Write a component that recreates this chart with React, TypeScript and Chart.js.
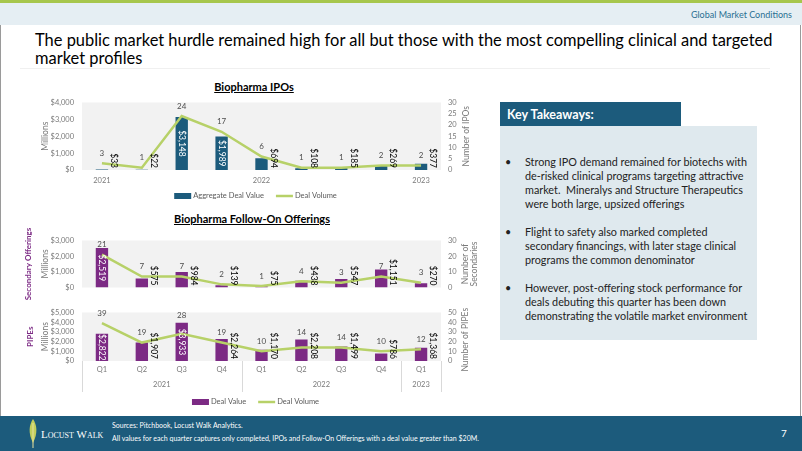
import React, { useEffect, useRef } from 'react';
import { Chart, registerables } from 'chart.js';
Chart.register(...registerables);

const FONT = 'Lato, "Open Sans", sans-serif';

// ---------- data ----------
const quarters = ['Q1', 'Q2', 'Q3', 'Q4', 'Q1', 'Q2', 'Q3', 'Q4', 'Q1'];
const years = ['2021', '2021', '2021', '2021', '2022', '2022', '2022', '2022', '2023'];

const ipoValues = [33, 22, 3148, 1989, 694, 108, 185, 269, 377];
const ipoCounts = [3, 1, 24, 17, 6, 1, 1, 2, 2];

const followOnValues = [2519, 575, 984, 139, 75, 438, 547, 1151, 270];
const followOnCounts = [21, 7, 7, 2, 1, 4, 3, 7, 3];

const pipeValues = [2822, 1907, 3933, 2264, 1170, 2208, 1499, 786, 1368];
const pipeCounts = [39, 19, 28, 19, 10, 14, 14, 10, 12];

const bullets = [
  ['Strong IPO demand remained for biotechs with', 'de-risked clinical programs targeting attractive', 'market.  Mineralys and Structure Therapeutics', 'were both large, upsized offerings'],
  ['Flight to safety also marked completed', 'secondary financings, with later stage clinical', 'programs the common denominator'],
  ['However, post-offering stock performance for', 'deals debuting this quarter has been down', 'demonstrating the volatile market environment'],
];

// ---------- colours ----------
const NAVY = '#1c5b7c';
const PURPLE = '#7c2a84';
const LINE = '#b7d168';
const TICK = '#7a7a7a';

// ---------- plugins ----------
const plotBg = {
  id: 'plotBg',
  beforeDraw(chart: any) {
    const { ctx, chartArea: a } = chart;
    ctx.save();
    ctx.fillStyle = '#f2f2f2';
    ctx.fillRect(a.left, a.top, a.width, a.height);
    ctx.restore();
  },
};

const valueLabels = {
  id: 'valueLabels',
  afterDatasetsDraw(chart: any, _args: any, opts: any) {
    const ctx = chart.ctx;
    const barMeta = chart.getDatasetMeta(0);
    chart.data.datasets.forEach((ds: any, di: number) => {
      const meta = chart.getDatasetMeta(di);
      meta.data.forEach((el: any, i: number) => {
        const v = ds.data[i];
        ctx.save();
        if (ds.type === 'bar') {
          ctx.font = `8.5px ${FONT}`;
          const text = '$' + v.toLocaleString('en-US');
          ctx.textBaseline = 'middle';
          if (v >= opts.insideMin) {
            ctx.fillStyle = '#ffffff';
            ctx.translate(el.x, (el.y + el.base) / 2);
            ctx.rotate(Math.PI / 2);
            ctx.textAlign = 'center';
          } else {
            ctx.fillStyle = '#000000';
            ctx.translate(el.x + 12, el.base - 2);
            ctx.rotate(Math.PI / 2);
            ctx.textAlign = 'right';
          }
          ctx.fillText(text, 0, 0);
        } else {
          ctx.font = `8px ${FONT}`;
          ctx.fillStyle = '#4d4d4d';
          ctx.textAlign = 'center';
          ctx.textBaseline = 'middle';
          let y = el.y - 10;
          if (opts.avoidBars) y = Math.min(y, barMeta.data[i].y - 7);
          ctx.fillText(String(v), el.x, y);
        }
        ctx.restore();
      });
    });
  },
};

const sideTitles = {
  id: 'sideTitles',
  afterDraw(chart: any, _args: any, opts: any) {
    const { ctx, chartArea: a } = chart;
    (opts.items || []).forEach((it: any) => {
      ctx.save();
      ctx.font = `${it.bold ? 'bold ' : ''}${it.size}px ${FONT}`;
      ctx.fillStyle = it.color;
      const x = it.side === 'left' ? a.left - it.offset : a.right + it.offset;
      ctx.translate(x, (a.top + a.bottom) / 2 + (it.dy || 0));
      ctx.rotate(-Math.PI / 2);
      ctx.textAlign = 'center';
      ctx.textBaseline = 'middle';
      ctx.fillText(it.text, 0, 0);
      ctx.restore();
    });
  },
};

const customLegend = {
  id: 'customLegend',
  afterDraw(chart: any, _args: any, opts: any) {
    if (!opts.show) return;
    const { ctx, chartArea: a } = chart;
    ctx.save();
    ctx.font = `${opts.size}px ${FONT}`;
    const sw = 17, gap = 2, spacing = 12;
    const items = chart.data.datasets.map((ds: any) => ({
      label: ds.label,
      type: ds.type,
      color: ds.type === 'bar' ? ds.backgroundColor : ds.borderColor,
    }));
    const widths = items.map((it: any) => sw + gap + ctx.measureText(it.label).width);
    const total = widths.reduce((s: number, w: number) => s + w, 0) + spacing * (items.length - 1);
    let x = (a.left + a.right) / 2 + opts.dx - total / 2;
    const y = a.bottom + opts.dy;
    items.forEach((it: any, i: number) => {
      if (it.type === 'bar') {
        ctx.fillStyle = it.color;
        ctx.fillRect(x, y - 3, sw, 6);
      } else {
        ctx.strokeStyle = it.color;
        ctx.lineWidth = 2.5;
        ctx.beginPath();
        ctx.moveTo(x, y);
        ctx.lineTo(x + sw, y);
        ctx.stroke();
      }
      ctx.fillStyle = '#595959';
      ctx.textAlign = 'left';
      ctx.textBaseline = 'middle';
      ctx.fillText(it.label, x + sw + gap, y);
      x += widths[i] + spacing;
    });
    ctx.restore();
  },
};

const yearGroups = {
  id: 'yearGroups',
  afterDraw(chart: any, _args: any, opts: any) {
    if (!opts.show) return;
    const { ctx, chartArea: a } = chart;
    const xs = chart.scales.x;
    const half = (xs.getPixelForValue(1) - xs.getPixelForValue(0)) / 2;
    ctx.save();
    ctx.strokeStyle = '#d9d9d9';
    ctx.lineWidth = 1;
    ctx.font = `7.5px ${FONT}`;
    ctx.fillStyle = TICK;
    ctx.textAlign = 'center';
    ctx.textBaseline = 'middle';
    const edges: number[] = [xs.getPixelForValue(0) - half];
    let start = 0;
    for (let i = 1; i <= years.length; i++) {
      if (i === years.length || years[i] !== years[start]) {
        const l = xs.getPixelForValue(start) - half;
        const r = xs.getPixelForValue(i - 1) + half;
        ctx.fillText(years[start], (l + r) / 2, a.bottom + opts.dy);
        edges.push(r);
        start = i;
      }
    }
    edges.forEach((ex) => {
      const px = Math.round(ex) + 0.5;
      ctx.beginPath();
      ctx.moveTo(px, a.bottom);
      ctx.lineTo(px, a.bottom + opts.len);
      ctx.stroke();
    });
    ctx.restore();
  },
};

// ---------- config builder ----------
function makeConfig(p: any) {
  return {
    type: 'bar',
    data: {
      labels: quarters.map((q, i) => q + ' ' + years[i]),
      datasets: [
        {
          type: 'bar',
          label: p.barLabel,
          data: p.values,
          backgroundColor: p.barColor,
          yAxisID: 'y',
          barPercentage: 0.31,
          categoryPercentage: 1,
          order: 2,
        },
        {
          type: 'line',
          label: 'Deal Volume',
          data: p.counts,
          borderColor: LINE,
          backgroundColor: LINE,
          borderWidth: 2.5,
          pointRadius: 0,
          tension: 0,
          yAxisID: 'y1',
          order: 1,
        },
      ],
    },
    options: {
      responsive: false,
      animation: false,
      devicePixelRatio: 1,
      layout: { padding: { top: p.padTop, bottom: p.padBottom, left: 0, right: 0 } },
      plugins: {
        legend: { display: false },
        tooltip: { enabled: false },
        valueLabels: { insideMin: p.insideMin, avoidBars: p.avoidBars },
        sideTitles: { items: p.titles },
        customLegend: p.legend,
        yearGroups: p.yearGroups,
      },
      scales: {
        x: {
          display: p.xDisplay,
          grid: { display: false, drawTicks: false },
          border: { display: false },
          ticks: {
            color: TICK,
            font: { family: FONT, size: 7.5 },
            padding: p.xPad,
            autoSkip: false,
            maxRotation: 0,
            callback: p.xCallback,
          },
          afterFit: (s: any) => { s.height = p.xHeight; },
        },
        y: {
          position: 'left',
          min: 0,
          max: p.valueMax,
          grid: { display: false, drawTicks: false },
          border: { display: false },
          ticks: {
            stepSize: p.valueStep,
            autoSkip: false,
            maxTicksLimit: 20,
            color: TICK,
            font: { family: FONT, size: 7.5 },
            padding: 8,
            callback: (v: number) => '$' + Number(v).toLocaleString('en-US'),
          },
          afterFit: (s: any) => { s.width = 82; },
        },
        y1: {
          position: 'right',
          min: 0,
          max: p.countMax,
          grid: { display: false, drawTicks: false },
          border: { display: false },
          ticks: {
            stepSize: p.countStep,
            autoSkip: false,
            maxTicksLimit: 20,
            color: TICK,
            font: { family: FONT, size: 7.5 },
            padding: 7,
          },
          afterFit: (s: any) => { s.width = 510 - 441; },
        },
      },
    },
    plugins: [plotBg, valueLabels, sideTitles, customLegend, yearGroups],
  };
}

const ipoConfig = makeConfig({
  barLabel: 'Aggregate Deal Value',
  values: ipoValues,
  counts: ipoCounts,
  barColor: NAVY,
  insideMin: 1500,
  avoidBars: true,
  valueMax: 4000,
  valueStep: 1000,
  countMax: 30,
  countStep: 5,
  padTop: 11,
  padBottom: 15,
  xDisplay: true,
  xHeight: 20,
  xPad: 6,
  xCallback: (_v: any, i: number) => (quarters[i] === 'Q1' ? years[i] : ''),
  titles: [
    { text: 'Millions', side: 'left', offset: 37, size: 8.5, color: TICK },
    { text: 'Number of IPOs', side: 'right', offset: 25, size: 8.5, color: TICK },
  ],
  legend: { show: true, size: 7.5, dx: -6, dy: 26 },
  yearGroups: { show: false },
});

const followOnConfig = makeConfig({
  barLabel: 'Deal Value',
  values: followOnValues,
  counts: followOnCounts,
  barColor: PURPLE,
  insideMin: 2000,
  avoidBars: false,
  valueMax: 3000,
  valueStep: 1000,
  countMax: 30,
  countStep: 10,
  padTop: 9,
  padBottom: 6,
  xDisplay: false,
  xHeight: 0,
  xPad: 0,
  xCallback: () => '',
  titles: [
    { text: 'Secondary Offerings', side: 'left', offset: 54, size: 8, bold: true, color: PURPLE },
    { text: 'Millions', side: 'left', offset: 37, size: 8.5, color: TICK },
    { text: 'Number of', side: 'right', offset: 24, size: 8.5, color: TICK },
    { text: 'Secondaries', side: 'right', offset: 33, size: 8.5, color: TICK },
  ],
  legend: { show: false },
  yearGroups: { show: false },
});

const pipeConfig = makeConfig({
  barLabel: 'Deal Value',
  values: pipeValues,
  counts: pipeCounts,
  barColor: PURPLE,
  insideMin: 2500,
  avoidBars: true,
  valueMax: 5000,
  valueStep: 1000,
  countMax: 50,
  countStep: 10,
  padTop: 8,
  padBottom: 21,
  xDisplay: true,
  xHeight: 30,
  xPad: 4,
  xCallback: (_v: any, i: number) => quarters[i],
  titles: [
    { text: 'PIPEs', side: 'left', offset: 52, size: 8, bold: true, color: PURPLE },
    { text: 'Millions', side: 'left', offset: 37, size: 8.5, color: TICK },
    { text: 'Number of PIPEs', side: 'right', offset: 24, size: 8.5, color: TICK, dy: 3 },
  ],
  legend: { show: true, size: 7.5, dx: -6, dy: 41 },
  yearGroups: { show: true, dy: 23.5, len: 31 },
});

function ChartCanvas({ config, left, top, width, height }: any) {
  const ref = useRef<HTMLCanvasElement>(null);
  useEffect(() => {
    const chart = new Chart(ref.current as HTMLCanvasElement, config as any);
    return () => chart.destroy();
  }, []);
  return (
    <canvas
      ref={ref}
      width={width}
      height={height}
      style={{ position: 'absolute', left, top, width, height }}
    />
  );
}

export default function App() {
  const abs = (s: any) => ({ position: 'absolute' as const, ...s });
  return (
    <div style={abs({ left: 0, top: 0, width: 802, height: 451, background: '#ffffff', overflow: 'hidden', fontFamily: FONT })}>
      <div style={abs({ left: 0, top: 0, width: 802, height: 3, background: '#a6c64c' })} />
      <div style={abs({ left: 0, top: 3, width: 802, height: 22, background: '#e5eef3' })} />
      <div style={abs({ right: 10, top: 9, fontSize: 9, lineHeight: '12px', color: '#2a6f92', whiteSpace: 'nowrap' })}>Global Market Conditions</div>
      <div style={abs({ left: 0, top: 25, width: 1, height: 391, background: '#9a9a9a' })} />
      <div style={abs({ left: 800, top: 25, width: 1, height: 391, background: '#9a9a9a' })} />
      <div style={abs({ left: 35, top: 31, fontSize: 16.45, lineHeight: '18px', color: '#000', whiteSpace: 'nowrap' })}>
        The public market hurdle remained high for all but those with the most compelling clinical and targeted
        <br />
        market profiles
      </div>
      <div style={abs({ left: 20, top: 68, width: 750, height: 1, background: '#f0f0f0' })} />

      <div style={abs({ left: 154, width: 200, top: 80, textAlign: 'center', fontSize: 11, lineHeight: '13px', fontWeight: 700, textDecoration: 'underline', color: '#000' })}>Biopharma IPOs</div>
      <div style={abs({ left: 102, width: 300, top: 212, textAlign: 'center', fontSize: 11, lineHeight: '13px', fontWeight: 700, textDecoration: 'underline', color: '#000' })}>Biopharma Follow-On Offerings</div>

      <div style={abs({ left: 500, top: 102, width: 181, height: 24, background: NAVY })} />
      <div style={abs({ left: 507, top: 107, fontSize: 12.5, lineHeight: '15px', fontWeight: 700, color: '#fff' })}>Key Takeaways:</div>
      <div style={abs({ left: 500, top: 126, width: 257, height: 214, background: '#dfe9ee' })} />
      {bullets.map((lines, bi) => (
        <div key={bi} style={abs({ left: 505, top: [155, 225, 281][bi], fontSize: 10.8, lineHeight: '14px', color: '#222' })}>
          <div style={abs({ left: 0, top: 0 })}>•</div>
          <div style={abs({ left: 20, top: 0, whiteSpace: 'pre' })}>
            {lines.map((l, li) => (
              <div key={li}>{l}</div>
            ))}
          </div>
        </div>
      ))}

      <ChartCanvas config={ipoConfig} left={0} top={90} width={510} height={115} />
      <ChartCanvas config={followOnConfig} left={0} top={228} width={510} height={72} />
      <ChartCanvas config={pipeConfig} left={0} top={300} width={510} height={112} />

      <div style={abs({ left: 0, top: 416, width: 802, height: 35, background: NAVY })} />
      <svg style={abs({ left: 26, top: 419 })} width={14} height={29} viewBox="0 0 14 29">
        <path d="M7 0 C11 6 12 14 7 24 C2 14 3 6 7 0 Z" fill="#c2cf5c" />
        <line x1="7" y1="4" x2="7" y2="29" stroke="#e8e2a0" strokeWidth="1" />
      </svg>
      <div style={abs({ left: 41, top: 428, fontFamily: '"Liberation Serif", serif', fontVariant: 'small-caps', fontSize: 11, lineHeight: '13px', color: '#fff', whiteSpace: 'nowrap' })}>Locust Walk</div>
      <div style={abs({ left: 112, top: 419, fontSize: 7, lineHeight: '13px', color: '#fff', whiteSpace: 'nowrap' })}>
        <div>Sources: Pitchbook, Locust Walk Analytics.</div>
        <div>All values for each quarter captures only completed, IPOs and Follow-On Offerings with a deal value greater than $20M.</div>
      </div>
      <div style={abs({ left: 781, top: 426, fontSize: 10, lineHeight: '14px', color: '#fff' })}>7</div>
    </div>
  );
}
